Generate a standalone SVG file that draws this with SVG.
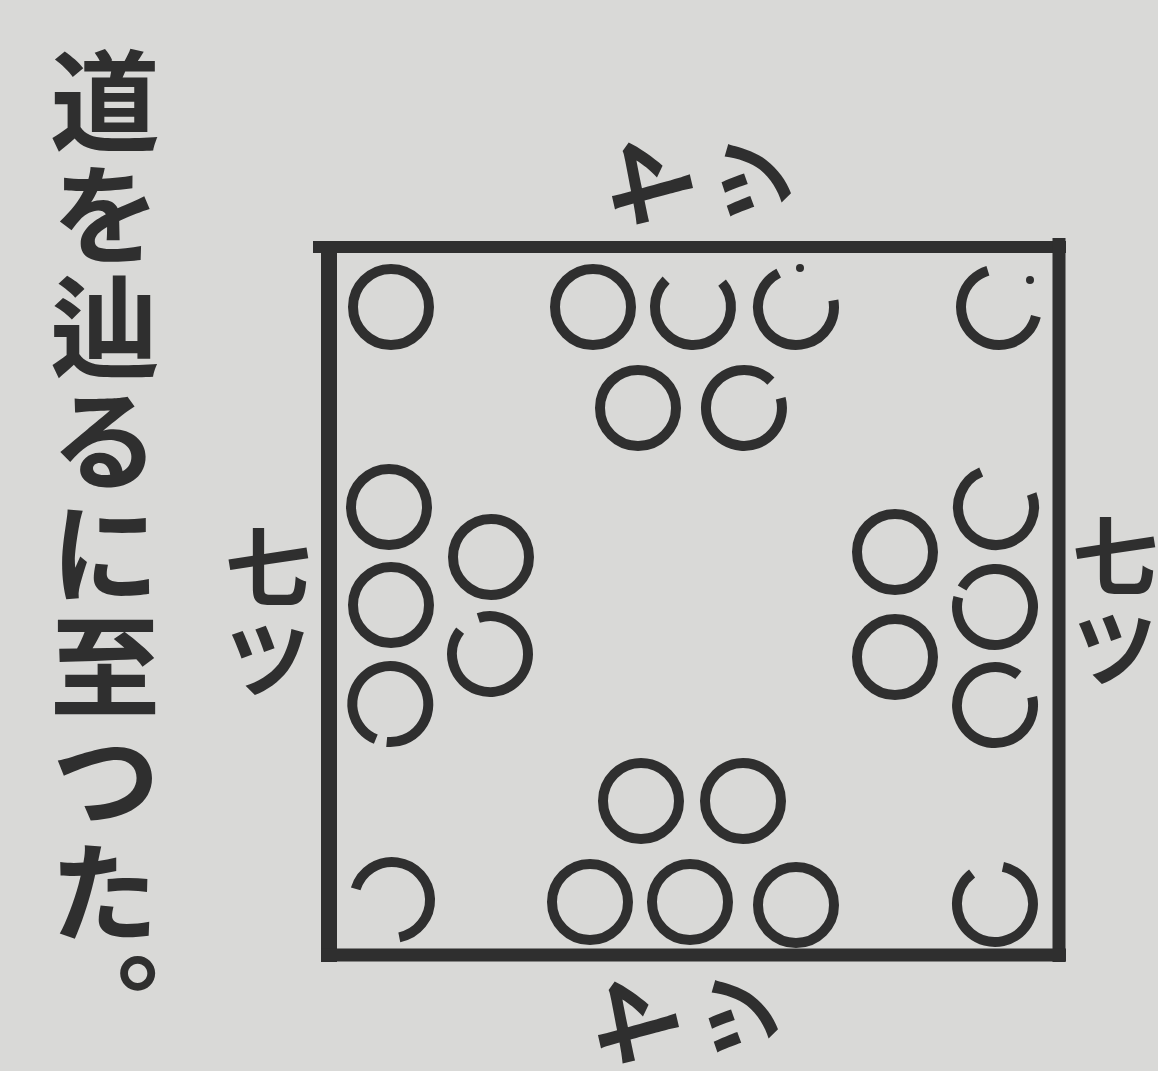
<svg xmlns="http://www.w3.org/2000/svg" width="1158" height="1071" viewBox="0 0 1158 1071">
<style>
.bg{fill:#d9d9d7}
.ink{fill:#2f2f2f}
.ring{fill:none;stroke:#2f2f2f;stroke-width:10}
.frame{stroke:#2f2f2f;stroke-linecap:butt}
.t{font-family:"Noto Sans CJK JP","Noto Sans CJK SC",sans-serif;font-weight:700;fill:#2f2f2f;text-anchor:middle;dominant-baseline:central}
.v{font-family:"Noto Sans CJK JP","Noto Sans CJK SC",sans-serif;font-weight:700;fill:#2f2f2f;writing-mode:vertical-rl}
</style>
<rect class="bg" x="0" y="0" width="1158" height="1071"/>
<g id="caption">
<text class="v" x="105" y="46" font-size="110" letter-spacing="3">道を辿るに至つた。</text>
</g>
<g id="frame">
<line class="frame" x1="313" y1="247" x2="1066" y2="247" stroke-width="12"/>
<line class="frame" x1="329" y1="241" x2="329" y2="962" stroke-width="16"/>
<line class="frame" x1="1059" y1="238" x2="1059" y2="962" stroke-width="13"/>
<line class="frame" x1="321" y1="955" x2="1066" y2="955" stroke-width="13"/>
</g>
<g id="labels">
<text class="t" x="646" y="183" font-size="92" transform="rotate(-90 646 183)">ヤ</text>
<text class="t" x="750" y="180" font-size="84" transform="rotate(-90 750 180)">ツ</text>
<text class="t" x="632" y="1022" font-size="92" transform="rotate(-90 632 1022)">ヤ</text>
<text class="t" x="737" y="1016" font-size="84" transform="rotate(-90 737 1016)">ツ</text>
<text class="v" x="268" y="524" font-size="86" letter-spacing="6">七ツ</text>
<text class="v" x="1115" y="513" font-size="86" letter-spacing="6">七ツ</text>
</g>
<g id="stones">
<circle class="ring" cx="391" cy="307" r="38"/>
<circle class="ring" cx="593" cy="307" r="38"/>
<path class="ring" d="M722.1,282.6 A38,38 0 1 1 666.1,280.1"/>
<path class="ring" d="M833.4,300.4 A38,38 0 1 1 778.7,273.1"/>
<circle class="ink" cx="800" cy="268" r="4"/>
<path class="ring" d="M1035.9,316.2 A38,38 0 1 1 987.9,270.7"/>
<circle class="ink" cx="1030" cy="280" r="4"/>
<circle class="ring" cx="638" cy="408" r="38"/>
<path class="ring" d="M780.7,398.2 A38,38 0 1 1 770.9,381.1"/>
<circle class="ring" cx="389" cy="507" r="38"/>
<circle class="ring" cx="391" cy="605" r="38"/>
<path class="ring" d="M375.8,739.2 A38,38 0 1 1 386.7,741.9"/>
<circle class="ring" cx="491" cy="557" r="38"/>
<path class="ring" d="M478.3,617.9 A38,38 0 1 1 460.1,630.6"/>
<circle class="ring" cx="895" cy="552" r="38"/>
<circle class="ring" cx="895" cy="657" r="38"/>
<path class="ring" d="M1031.7,494.0 A38,38 0 1 1 981.2,472.0"/>
<path class="ring" d="M962.1,588.0 A38,38 0 1 1 958.3,597.2"/>
<path class="ring" d="M1032.2,697.1 A38,38 0 1 1 1018.4,675.1"/>
<circle class="ring" cx="641" cy="801" r="38"/>
<circle class="ring" cx="743" cy="801" r="38"/>
<path class="ring" d="M355.7,888.9 A38,38 0 1 1 399.3,937.3"/>
<circle class="ring" cx="590" cy="902" r="38"/>
<circle class="ring" cx="690" cy="902" r="38"/>
<circle class="ring" cx="796" cy="905" r="38"/>
<path class="ring" d="M1002.9,866.8 A38,38 0 1 1 972.1,873.6"/>
</g>
</svg>
